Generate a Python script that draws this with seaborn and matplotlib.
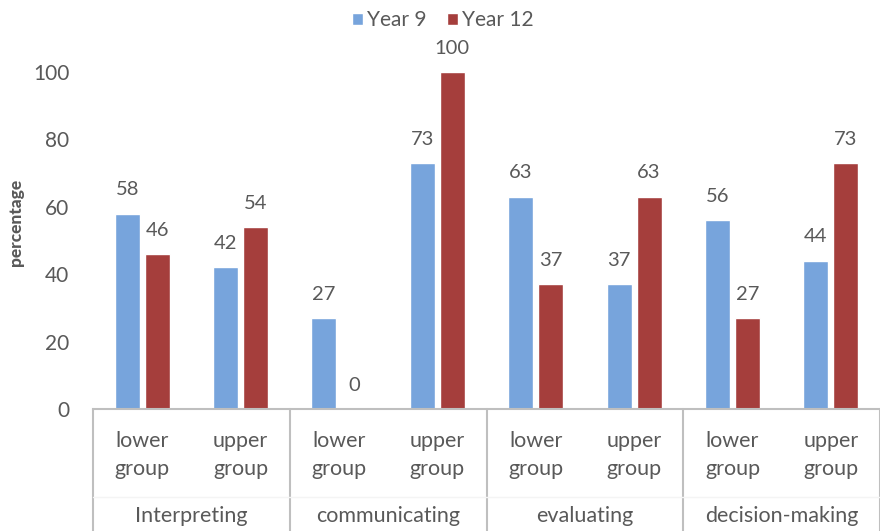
import matplotlib
matplotlib.use("Agg")
import matplotlib.pyplot as plt
import matplotlib.transforms as mtransforms
from matplotlib.patches import Patch
import seaborn as sns
import pandas as pd

skills = ["Interpreting", "communicating", "evaluating", "decision-making"]
groups = ["lower\ngroup", "upper\ngroup"]
series = ["Year 9", "Year 12"]
year9 = [58, 42, 27, 73, 63, 37, 56, 44]
year12 = [46, 54, 0, 100, 37, 63, 27, 73]
yticks = [0, 20, 40, 60, 80, 100]
colors = ["#77A4DC", "#A53E3C"]

cats = [f"{s}|{g}" for s in skills for g in groups]
rows = []
for c, a, b in zip(cats, year9, year12):
    rows.append({"cat": c, "year": series[0], "val": a})
    rows.append({"cat": c, "year": series[1], "val": b})
df = pd.DataFrame(rows)

sns.set_theme(style="white")
plt.rcParams["font.family"] = ["Lato", "DejaVu Sans"]
txt = "#595959"
axc = "#BFBFBF"

fig = plt.figure(figsize=(8.8, 5.31), dpi=100)
W, H = 880, 531
ax = fig.add_axes([93 / W, (H - 409) / H, (880 - 93) / W, (409 - 72) / H])

sns.barplot(data=df, x="cat", y="val", hue="year", order=cats, hue_order=series,
            palette=colors, width=0.61, gap=0.167, ax=ax, legend=False,
            saturation=1, errorbar=None)

ax.set_xlim(-0.5, len(cats) - 0.5)
ax.set_ylim(0, 100)
ax.set_yticks(yticks)
ax.set_yticklabels([str(t) for t in yticks], fontsize=15, color=txt)
ax.tick_params(axis="y", length=0, pad=17)
ax.tick_params(axis="x", length=0)
ax.set_xticks([])
ax.set_xlabel("")
ax.set_ylabel("")
for s in ["top", "right", "left"]:
    ax.spines[s].set_visible(False)
ax.spines["bottom"].set_color(axc)
ax.spines["bottom"].set_linewidth(1.5)

for cont in ax.containers:
    ax.bar_label(cont, fmt="%d", padding=11, fontsize=14.5, color=txt)

def fy(py):
    return (H - py) / H

fig.text(16 / W, fy(222), "percentage", rotation=90, ha="center", va="center",
         fontsize=12.5, fontweight="black", color=txt)

# multi-level category axis
trans = mtransforms.blended_transform_factory(ax.transData, fig.transFigure)
for i, c in enumerate(cats):
    g = c.split("|")[1]
    ax.text(i, fy(455), g, transform=trans, ha="center", va="center",
            fontsize=15.5, color=txt, linespacing=1.45, clip_on=False)
for j, s in enumerate(skills):
    ax.text(2 * j + 0.5, fy(516), s, transform=trans, ha="center", va="center",
            fontsize=15.5, color=txt, clip_on=False)
for b in [-0.5, 1.5, 3.5, 5.5, 7.5]:
    ax.plot([b, b], [fy(409), fy(531)], transform=trans, color=axc, lw=1.5,
            clip_on=False)
ax.plot([-0.5, 7.5], [fy(497), fy(497)], transform=trans, color="#F4F4F4",
        lw=1, clip_on=False)

handles = [Patch(facecolor=colors[0], label=series[0]),
           Patch(facecolor=colors[1], label=series[1])]
fig.legend(handles=handles, loc="center", bbox_to_anchor=(443 / W, fy(20)),
           ncol=2, frameon=False, fontsize=15, handlelength=0.5, handleheight=0.5,
           handletextpad=0.2, columnspacing=1.0, labelcolor=txt)

fig.savefig("out.png", dpi=100)
